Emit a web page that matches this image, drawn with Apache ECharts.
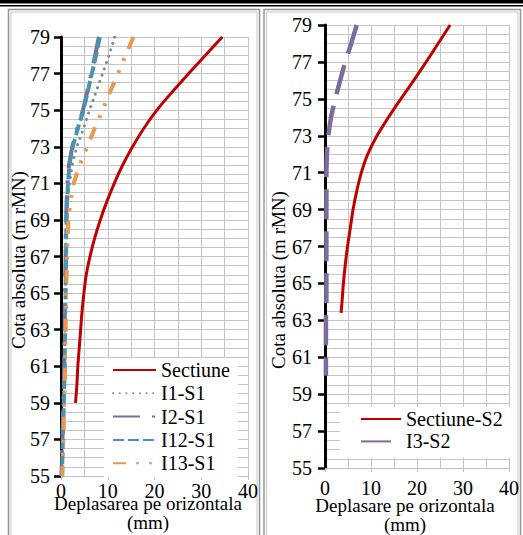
<!DOCTYPE html>
<html>
<head>
<meta charset="utf-8">
<script src="https://cdn.jsdelivr.net/npm/echarts@6/dist/echarts.min.js"></script>
<style>
  html,body{margin:0;padding:0;background:#fff;}
  #chart{width:523px;height:535px;}
</style>
</head>
<body>
<div id="chart"></div>
<script>
// cote (m rMN)
const elevSectiune = [79,78,77,76,75,74,73,72,71,70,69,68,67,66,65,64,63,62,61,60,59];
const elevIncl = [79,78,77,76,75,74,73,72,71,70,69,68,67,66,65,64,63,62,61,60,59,58,57,56,55];
const elevSectiuneS2 = [79,78,77,76,75,74,73,72,71,70,69,68,67,66,65,64,63.4];
const elevI3 = [79,78,77,76,75,74,73,72,71,70,69,68,67,66,65,64,63,62,61,60];

// deplasari (mm)
const sectiune = [34.5,30.9,27.3,23.8,20.5,17.7,15.3,13.2,11.4,9.8,8.4,7.2,6.2,5.4,4.9,4.5,4.2,3.9,3.6,3.4,3.1];
const i1s1 = [11.5,10.3,8.9,7.5,6.1,4.8,3.4,2.4,1.8,1.4,1.2,1.1,1.0,1.0,0.9,0.9,0.8,0.8,0.7,0.6,0.5,0.4,0.3,0.2,0.1];
const i2s1 = [8.1,7.3,6.5,5.6,4.7,3.5,2.4,1.7,1.4,1.2,1.1,1.0,1.0,0.9,0.9,0.8,0.8,0.7,0.7,0.6,0.5,0.4,0.3,0.2,0.1];
const i12s1 = [8.3,7.5,6.6,5.7,4.8,3.6,2.5,1.8,1.5,1.3,1.2,1.1,1.1,1.0,1.0,0.9,0.9,0.8,0.8,0.7,0.6,0.5,0.4,0.3,0.2];
const i13s1 = [15.5,13.8,12.2,10.5,8.9,7.2,5.6,4.0,2.7,2.0,1.6,1.4,1.3,1.2,1.1,1.0,1.0,0.9,0.9,0.8,0.7,0.6,0.5,0.4,0.3];
const sectiuneS2 = [27.2,24.6,22.0,19.3,16.5,13.8,11.3,9.3,7.9,6.9,6.1,5.5,4.9,4.4,4.0,3.7,3.5];
const i3s2 = [6.9,5.7,4.4,3.3,2.2,1.3,0.7,0.4,0.3,0.3,0.3,0.3,0.3,0.3,0.3,0.3,0.2,0.2,0.2,0.2];

const xTicks = [0,10,20,30,40];

function pairs(xs, ys){ return xs.map((v,i)=>[v, ys[i]]) }

const font = '"Liberation Serif", "Times New Roman", serif';
const red = '#c00000', gray = '#7d8c9b', purple = '#7d6b9e', teal = '#4a93ad', orange = '#e8994f';

function xAx(idx, name, gap, pad){
  return {
    gridIndex: idx, type: 'value', min: xTicks[0], max: xTicks[xTicks.length-1], interval: 10,
    name: name, nameLocation: 'middle', nameGap: gap, nameMoveOverlap: false,
    nameTextStyle: {fontFamily: font, fontSize: 19, color: '#000', lineHeight: 19, padding: pad},
    axisLine: {show: true, lineStyle: {color: '#bfbfbf', width: 1}},
    axisTick: {show: true, length: 4, lineStyle: {color: '#bfbfbf'}},
    axisLabel: {fontFamily: font, fontSize: 20, color: '#000', margin: idx ? 10 : 5},
    splitLine: {show: true, lineStyle: {color: '#c4c4c4', width: 1}},
    minorTick: {show: false, splitNumber: 2},
    minorSplitLine: {show: true, lineStyle: {color: '#c4c4c4', width: 1}}
  };
}
function yAx(idx, gap, pad, margin){
  return {
    gridIndex: idx, type: 'value', min: 55, max: 79, interval: 2,
    name: 'Cota absoluta (m rMN)', nameLocation: 'middle', nameGap: gap, nameRotate: 90,
    nameMoveOverlap: false,
    nameTextStyle: {fontFamily: font, fontSize: 19, color: '#000', padding: pad},
    axisLine: {show: true, lineStyle: {color: '#000', width: 3}},
    axisTick: {show: true, length: 7, lineStyle: {color: '#000', width: 2.5}},
    axisLabel: {fontFamily: font, fontSize: 20, color: '#000', margin: margin},
    splitLine: {show: true, lineStyle: {color: '#c4c4c4', width: 1}},
    minorTick: {show: false, splitNumber: 4},
    minorSplitLine: {show: true, lineStyle: {color: '#c4c4c4', width: 1}}
  };
}
function line(name, xi, data, color, width, type, smooth, cap){
  return {
    name: name, type: 'line', xAxisIndex: xi, yAxisIndex: xi, data: data,
    symbol: 'none', smooth: smooth, animation: false,
    lineStyle: {color: color, width: width, type: type, cap: cap || 'butt'},
    itemStyle: {color: color}
  };
}
const legendBase = {
  orient: 'vertical', itemHeight: 14, backgroundColor: '#fff',
  itemStyle: {opacity: 0, borderWidth: 0},
  textStyle: {fontFamily: font, fontSize: 20, color: '#000', lineHeight: 20}
};

const chart = echarts.init(document.getElementById('chart'), null, {renderer: 'svg'});
chart.setOption({
  backgroundColor: '#fff',
  animation: false,
  textStyle: {fontFamily: font},
  graphic: [
    {type: 'rect', shape: {x: 0, y: 0, width: 523, height: 3.5}, style: {fill: '#000'}},
    {type: 'rect', shape: {x: 0, y: 5, width: 523, height: 1.5}, style: {fill: '#000'}},
    {type: 'rect', shape: {x: 8.5, y: 9.5, width: 251, height: 540}, style: {fill: null, stroke: '#959595', lineWidth: 1.5}},
    {type: 'rect', shape: {x: 11, y: 12, width: 246, height: 540}, style: {fill: null, stroke: '#c8c8c8', lineWidth: 1}},
    {type: 'rect', shape: {x: 264, y: 9.5, width: 256.5, height: 540}, style: {fill: null, stroke: '#959595', lineWidth: 1.5}},
    {type: 'rect', shape: {x: 266.5, y: 12, width: 251.5, height: 540}, style: {fill: null, stroke: '#c8c8c8', lineWidth: 1}}
  ],
  grid: [
    {left: 61, right: 275, top: 37, bottom: 59, outerBoundsMode: 'none', containLabel: false},
    {left: 325, right: 14, top: 25, bottom: 67, outerBoundsMode: 'none', containLabel: false}
  ],
  xAxis: [
    xAx(0, 'Deplasarea pe orizontala\n(mm)', 18, [0, 13, 0, 0]),
    xAx(1, 'Deplasare pe orizontala\n(mm)', 28, [0, 24, 0, 0])
  ],
  yAxis: [
    yAx(0, 33, [0, 7, 0, 0], 11),
    yAx(1, 37, [0, 67, 0, 0], 13)
  ],
  legend: [
    Object.assign({}, legendBase, {
      data: ['Sectiune','I1-S1','I2-S1','I12-S1','I13-S1'],
      left: 104, top: 358, padding: [2, 8, 4, 8],
      itemWidth: 43, itemGap: 3.3
    }),
    Object.assign({}, legendBase, {
      data: ['Sectiune-S2','I3-S2'],
      left: 340, top: 407, padding: [2, 10, 6, 20],
      itemWidth: 40, itemGap: 2.4
    })
  ],
  series: [
    line('Sectiune', 0, pairs(sectiune, elevSectiune), red, 3, 'solid', 0.4),
    line('I1-S1', 0, pairs(i1s1, elevIncl), gray, 3, [0.1, 6.6], false, 'round'),
    line('I2-S1', 0, pairs(i2s1, elevIncl), purple, 4, [27, 12, 3, 12], false),
    line('I12-S1', 0, pairs(i12s1, elevIncl), teal, 4, [11, 4], false),
    line('I13-S1', 0, pairs(i13s1, elevIncl), orange, 4, [13, 10, 3, 10, 3, 10], false),
    line('Sectiune-S2', 1, pairs(sectiuneS2, elevSectiuneS2), red, 3, 'solid', 0.4),
    line('I3-S2', 1, pairs(i3s2, elevI3), purple, 4.5, [30, 12], false)
  ]
});
</script>
</body>
</html>
